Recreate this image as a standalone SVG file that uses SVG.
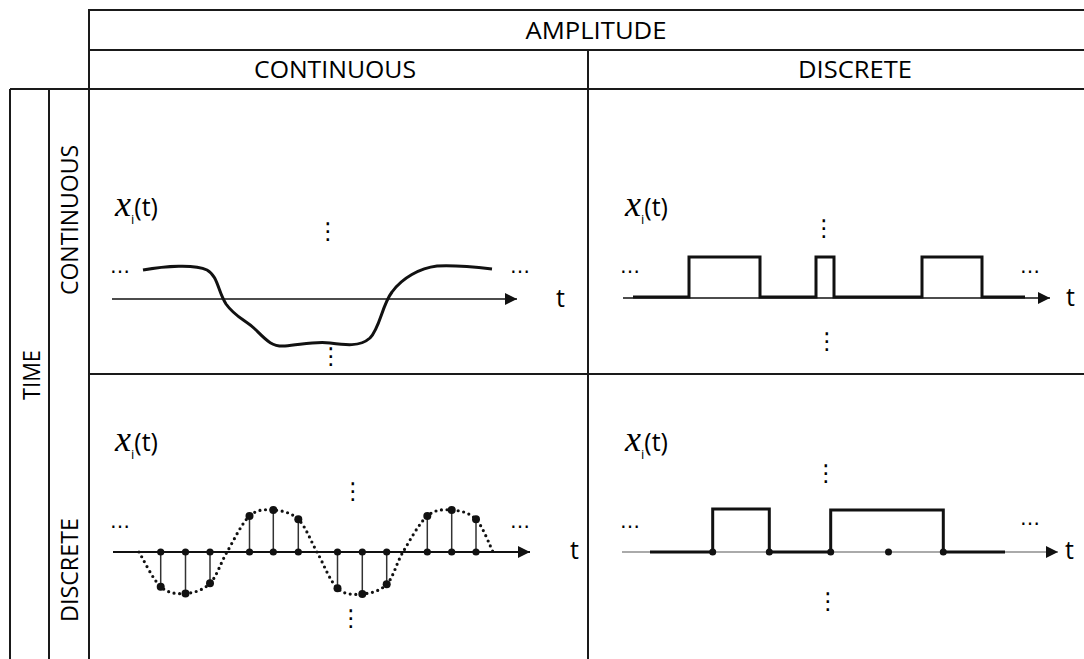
<svg xmlns="http://www.w3.org/2000/svg" width="1084" height="659" viewBox="0 0 1084 659">
<defs>
<style>
.grid{stroke:#1a1a1a;stroke-width:2;fill:none}
.hdr{font-family:"Open Sans","Liberation Sans",sans-serif;font-size:24px;fill:#000}
.lbl{font-family:"Open Sans","Liberation Sans",sans-serif;font-size:25px;fill:#000}
.ax{stroke:#111;stroke-width:1.5;fill:none}
.sig{stroke:#111;stroke-width:3;fill:none;stroke-linejoin:miter}
.stem{stroke:#333;stroke-width:1.5}
.dot{fill:#111}
.ell{font-family:"DejaVu Sans",sans-serif;font-size:20px;fill:#000}
.vell{font-family:"DejaVu Sans",sans-serif;font-size:23px;fill:#000;text-anchor:middle}
.xs{font-family:"Liberation Serif",serif;font-style:italic;font-size:36px;fill:#000}
.xi{font-family:"Open Sans","Liberation Sans",sans-serif;font-size:13px;fill:#000}
</style>
<marker id="arr" markerWidth="12" markerHeight="12" refX="12" refY="6" orient="auto" markerUnits="userSpaceOnUse"><path d="M0,0 L12,6 L0,12 z" fill="#111"/></marker>
</defs>
<rect width="1084" height="659" fill="#fff"/>
<g id="grid">
<path class="grid" d="M89,659 V10 H1084 M89,50 H1084 M10,89 H1084 M10,659 V89 M49,89 V659 M588,50 V659 M89,374 H1084"/>
</g>
<g id="headers">
<text class="hdr" x="596" y="39" text-anchor="middle" textLength="141" lengthAdjust="spacingAndGlyphs">AMPLITUDE</text>
<text class="hdr" x="335" y="78" text-anchor="middle" textLength="162" lengthAdjust="spacingAndGlyphs">CONTINUOUS</text>
<text class="hdr" x="855" y="78" text-anchor="middle" textLength="114" lengthAdjust="spacingAndGlyphs">DISCRETE</text>
<text class="hdr" transform="translate(40,375) rotate(-90)" text-anchor="middle" textLength="50" lengthAdjust="spacingAndGlyphs">TIME</text>
<text class="hdr" transform="translate(78,220) rotate(-90)" text-anchor="middle" textLength="150" lengthAdjust="spacingAndGlyphs">CONTINUOUS</text>
<text class="hdr" transform="translate(78,570) rotate(-90)" text-anchor="middle" textLength="104" lengthAdjust="spacingAndGlyphs">DISCRETE</text>
</g>
<g id="cell-cont-cont">
<text class="lbl" x="115" y="216"><tspan class="xs">x</tspan><tspan class="xi" dy="8">i</tspan><tspan dy="-8">(t)</tspan></text>
<line class="ax" x1="112" y1="299" x2="517" y2="299" marker-end="url(#arr)"/>
<path class="sig" d="M143,270 C165,266 195,264 207,270 C218,276 218,292 226,304 C236,318 246,320 256,330 C266,340 272,347 285,346 C300,345 315,341 330,343 C345,345 360,347 370,338 C380,328 382,305 392,292 C402,278 420,268 437,266 C455,265 475,267 492,269"/>
<text class="lbl" x="556" y="307">t</text>
<text class="ell" x="110" y="273">…</text>
<text class="ell" x="510" y="273">…</text>
<text class="vell" x="328" y="239">⋮</text>
<text class="vell" x="331" y="364">⋮</text>
</g>
<g id="cell-cont-disc">
<text class="lbl" x="625" y="216"><tspan class="xs">x</tspan><tspan class="xi" dy="8">i</tspan><tspan dy="-8">(t)</tspan></text>
<line class="ax" x1="623" y1="298" x2="1050" y2="298" marker-end="url(#arr)"/>
<path class="sig" d="M633,297 H689 V257 H760 V297 H816 V257 H834 V297 H922 V257 H982 V297 H1025"/>
<text class="lbl" x="1066" y="306">t</text>
<text class="ell" x="620" y="273">…</text>
<text class="ell" x="1020" y="273">…</text>
<text class="vell" x="824" y="236">⋮</text>
<text class="vell" x="827" y="349">⋮</text>
</g>
<g id="cell-disc-cont">
<text class="lbl" x="115" y="451"><tspan class="xs">x</tspan><tspan class="xi" dy="8">i</tspan><tspan dy="-8">(t)</tspan></text>
<path d="M139,552 C142.6,557.8 152.95,579.8 160.7,586.7 C168.45,593.6 177.3,594.1 185.5,593.5 C193.7,592.9 203.1,590.2 210,583.3 C216.9,576.4 220.4,563.2 227,552 C233.6,540.8 241.8,523 249.5,516 C257.2,509 265.2,509.45 273.3,510 C281.4,510.55 291,512.3 298.3,519.3 C305.6,526.3 310.5,540.5 317,552 C323.5,563.5 329.95,581.3 337.5,588.3 C345.05,595.3 354.1,594.7 362.3,594 C370.5,593.3 379.9,591.3 386.7,584.3 C393.5,577.3 396.2,563.4 403,552 C409.8,540.6 419.2,523 427.3,516 C435.4,509 443.6,509.45 451.7,510 C459.8,510.55 469.1,512.3 476,519.3 C482.9,526.3 490.2,546.55 493,552" fill="none" stroke="#111" stroke-width="3.2" stroke-linecap="round" stroke-dasharray="0 5.6"/>
<line x1="113" y1="552" x2="530" y2="552" stroke="#111" stroke-width="2" marker-end="url(#arr)"/>
<g class="stem">
<line x1="160.7" y1="552" x2="160.7" y2="586.7"/>
<line x1="185.5" y1="552" x2="185.5" y2="593.5"/>
<line x1="210" y1="552" x2="210" y2="583.3"/>
<line x1="249.5" y1="552" x2="249.5" y2="516"/>
<line x1="273.3" y1="552" x2="273.3" y2="510"/>
<line x1="298.3" y1="552" x2="298.3" y2="519.3"/>
<line x1="337.5" y1="552" x2="337.5" y2="588.3"/>
<line x1="362.3" y1="552" x2="362.3" y2="594"/>
<line x1="386.7" y1="552" x2="386.7" y2="584.3"/>
<line x1="427.3" y1="552" x2="427.3" y2="516"/>
<line x1="451.7" y1="552" x2="451.7" y2="510"/>
<line x1="476" y1="552" x2="476" y2="519.3"/>
</g>
<g class="dot">
<circle cx="160.7" cy="552" r="3.6"/><circle cx="185.5" cy="552" r="3.6"/><circle cx="210" cy="552" r="3.6"/>
<circle cx="249.5" cy="552" r="3.6"/><circle cx="273.3" cy="552" r="3.6"/><circle cx="298.3" cy="552" r="3.6"/>
<circle cx="337.5" cy="552" r="3.6"/><circle cx="362.3" cy="552" r="3.6"/><circle cx="386.7" cy="552" r="3.6"/>
<circle cx="427.3" cy="552" r="3.6"/><circle cx="451.7" cy="552" r="3.6"/><circle cx="476" cy="552" r="3.6"/>
<circle cx="160.7" cy="586.7" r="4"/><circle cx="185.5" cy="593.5" r="4"/><circle cx="210" cy="583.3" r="4"/>
<circle cx="249.5" cy="516" r="4"/><circle cx="273.3" cy="510" r="4"/><circle cx="298.3" cy="519.3" r="4"/>
<circle cx="337.5" cy="588.3" r="4"/><circle cx="362.3" cy="594" r="4"/><circle cx="386.7" cy="584.3" r="4"/>
<circle cx="427.3" cy="516" r="4"/><circle cx="451.7" cy="510" r="4"/><circle cx="476" cy="519.3" r="4"/>
</g>
<text class="lbl" x="570" y="559">t</text>
<text class="ell" x="110" y="528">…</text>
<text class="ell" x="510" y="528">…</text>
<text class="vell" x="353" y="499">⋮</text>
<text class="vell" x="351" y="626">⋮</text>
</g>
<g id="cell-disc-disc">
<text class="lbl" x="625" y="451"><tspan class="xs">x</tspan><tspan class="xi" dy="8">i</tspan><tspan dy="-8">(t)</tspan></text>
<line x1="622" y1="552" x2="1058" y2="552" stroke="#aaa" stroke-width="2" marker-end="url(#arr)"/>
<path class="sig" d="M650,552 H712.7 V509 H769.3 V552 H830.7 V510 H943.3 V552 H1005"/>
<g class="dot">
<circle cx="712.7" cy="552" r="3.5"/><circle cx="769.3" cy="552" r="3.5"/><circle cx="830.7" cy="552" r="3.5"/><circle cx="888.5" cy="552" r="3.5"/><circle cx="943.3" cy="552" r="3.5"/>
</g>
<text class="lbl" x="1065" y="559">t</text>
<text class="ell" x="620" y="528">…</text>
<text class="ell" x="1020" y="525">…</text>
<text class="vell" x="826" y="481">⋮</text>
<text class="vell" x="828" y="609">⋮</text>
</g>
</svg>
